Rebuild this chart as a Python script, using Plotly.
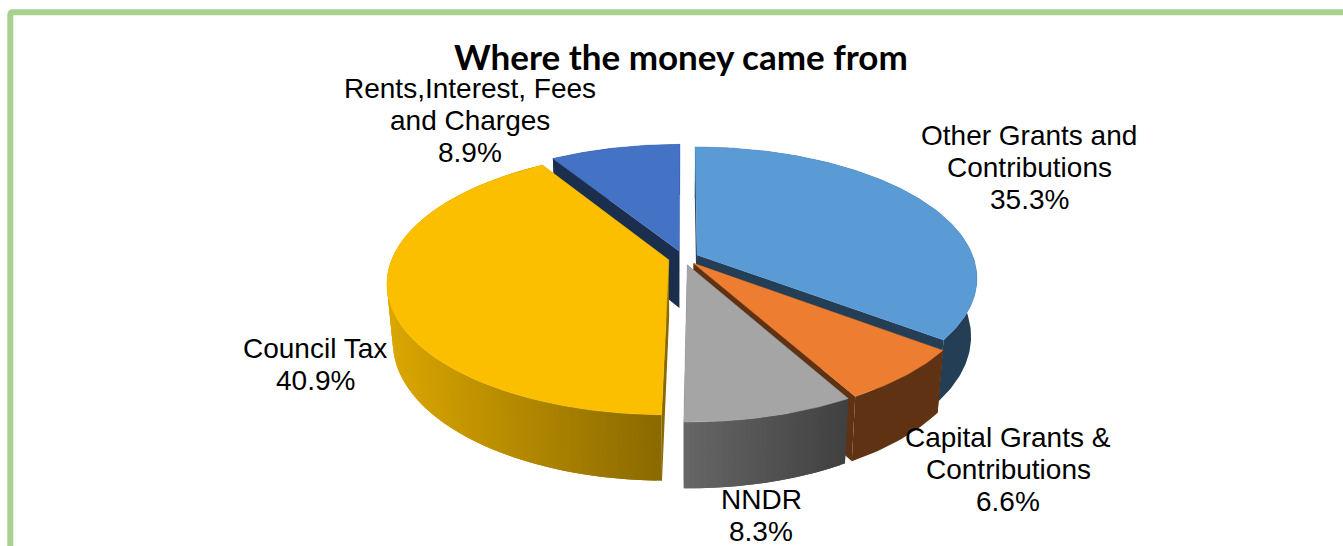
import math
import plotly.graph_objects as go

# Share of income by source, clockwise from twelve o'clock
sources = ["Other Grants and\nContributions", "Capital Grants &\nContributions", "NNDR",
           "Council Tax", "Rents,Interest, Fees\nand Charges"]
shares = [35.3, 6.6, 8.3, 40.9, 8.9]
top_colours = ["#5B9BD5", "#ED7D31", "#A5A5A5", "#FBBF00", "#4472C4"]

CENTRE_X, CENTRE_Y = 683.5, 258.0
RADIUS_X, RADIUS_Y = 276.5, 127.5
PERSPECTIVE = 0.172
EXPLODE = 0.055
DEPTH = 57.0
FOOT_SCALE = 0.98

# Wall shading per slice: brightness at the left and right end of the wall
wall_shade = {"NNDR": (0.62, 0.39), "Council Tax": (0.87, 0.55)}
FLAT_SHADE = 0.4

# Slices are painted back to front so nearer ones overlap farther ones
paint_order = [4, 0, 3, 1, 2]

# Label centres in pixels, one entry per slice
label_centres = [(1029, 135), (1008, 437), (761, 499.5), (315, 348), (470, 88)]
LABEL_LEAD = 32


def project(px, py, foot=False):
    denom = 1 - PERSPECTIVE * py
    x = RADIUS_X * px / denom
    y = RADIUS_Y * py / denom
    if foot:
        return CENTRE_X + x * FOOT_SCALE, CENTRE_Y + y * FOOT_SCALE + DEPTH / denom
    return CENTRE_X + x, CENTRE_Y + y


def shade(hex_colour, factor):
    r, g, b = (int(hex_colour[i:i + 2], 16) for i in (1, 3, 5))
    return f"rgb({r * factor:.0f},{g * factor:.0f},{b * factor:.0f})"


def polygon(points, colour, edge=0.0):
    xs, ys = zip(*points)
    line = dict(color=colour, width=edge) if edge else dict(width=0)
    return go.Scatter(x=list(xs) + [xs[0]], y=list(ys) + [ys[0]], mode="lines", fill="toself",
                      fillcolor=colour, line=line, hoverinfo="skip", showlegend=False)


def rim(start, end, steps):
    return [start + (end - start) * i / steps for i in range(steps + 1)]


total = sum(shares)
spans = []
cursor = 0.0
for share in shares:
    sweep = share / total * 2 * math.pi
    spans.append((cursor, cursor + sweep))
    cursor += sweep

fig = go.Figure()

for idx in paint_order:
    start, end = spans[idx]
    colour = top_colours[idx]
    mid = (start + end) / 2
    ox, oy = EXPLODE * math.sin(mid), -EXPLODE * math.cos(mid)

    def disc(theta):
        return ox + math.sin(theta), oy - math.cos(theta)

    name = sources[idx]
    angles = rim(start, end, max(8, int((end - start) * 60)))
    left_end, right_end = wall_shade.get(name, (FLAT_SHADE, FLAT_SHADE))
    xs_on_rim = [project(*disc(a))[0] for a in angles]
    lo, hi = min(xs_on_rim), max(xs_on_rim)

    # The two radial cut faces
    for a in (start, end):
        rim_pt = disc(a)
        face = [project(ox, oy), project(*rim_pt), project(*rim_pt, foot=True), project(ox, oy, foot=True)]
        fig.add_trace(polygon(face, shade(colour, FLAT_SHADE if name not in wall_shade else right_end)))

    # Outer wall: one flat band, or narrow overlapping strips where it is shaded
    if left_end == right_end:
        band = [project(*disc(a)) for a in angles] + [project(*disc(a), foot=True) for a in reversed(angles)]
        fig.add_trace(polygon(band, shade(colour, left_end)))
    else:
        for i in range(len(angles) - 1):
            a, b = angles[i], angles[min(i + 2, len(angles) - 1)]
            pa, pb = disc(a), disc(b)
            t = (project(*disc(angles[i]))[0] + project(*disc(angles[i + 1]))[0]) / 2
            t = (t - lo) / (hi - lo)
            strip = [project(*pa), project(*disc((a + b) / 2)), project(*pb),
                     project(*pb, foot=True), project(*disc((a + b) / 2), foot=True), project(*pa, foot=True)]
            fig.add_trace(polygon(strip, shade(colour, left_end + (right_end - left_end) * t)))

    # Top face
    top = [project(ox, oy)] + [project(*disc(a)) for a in angles]
    fig.add_trace(polygon(top, colour, edge=0.5))

annotations = [dict(x=681, y=55.5, text="<b>Where the money came from</b>", showarrow=False,
                    font=dict(family="Lato", size=35, color="#000000"), xanchor="center", yanchor="middle")]

for name, share, (lx, ly) in zip(sources, shares, label_centres):
    lines = name.split("\n") + [f"{share}%"]
    for n, line in enumerate(lines):
        annotations.append(dict(x=lx, y=ly + n * LABEL_LEAD, text=line, showarrow=False,
                                font=dict(family="Liberation Sans", size=28, color="#000000"),
                                xanchor="center", yanchor="middle"))

fig.update_layout(
    width=1343, height=546, autosize=False,
    margin=dict(l=0, r=0, t=0, b=0),
    paper_bgcolor="#FFFFFF", plot_bgcolor="#FFFFFF",
    xaxis=dict(range=[0, 1343], visible=False, fixedrange=True),
    yaxis=dict(range=[546, 0], visible=False, fixedrange=True),
    annotations=annotations,
    shapes=[dict(type="path", path="M 10.3 560 L 10.3 15 Q 10.3 12.3 13 12.3 L 1360 12.3",
                 line=dict(color="#A9D18E", width=6), layer="below")],
)

fig.write_html("out.html", config=dict(displayModeBar=False))
